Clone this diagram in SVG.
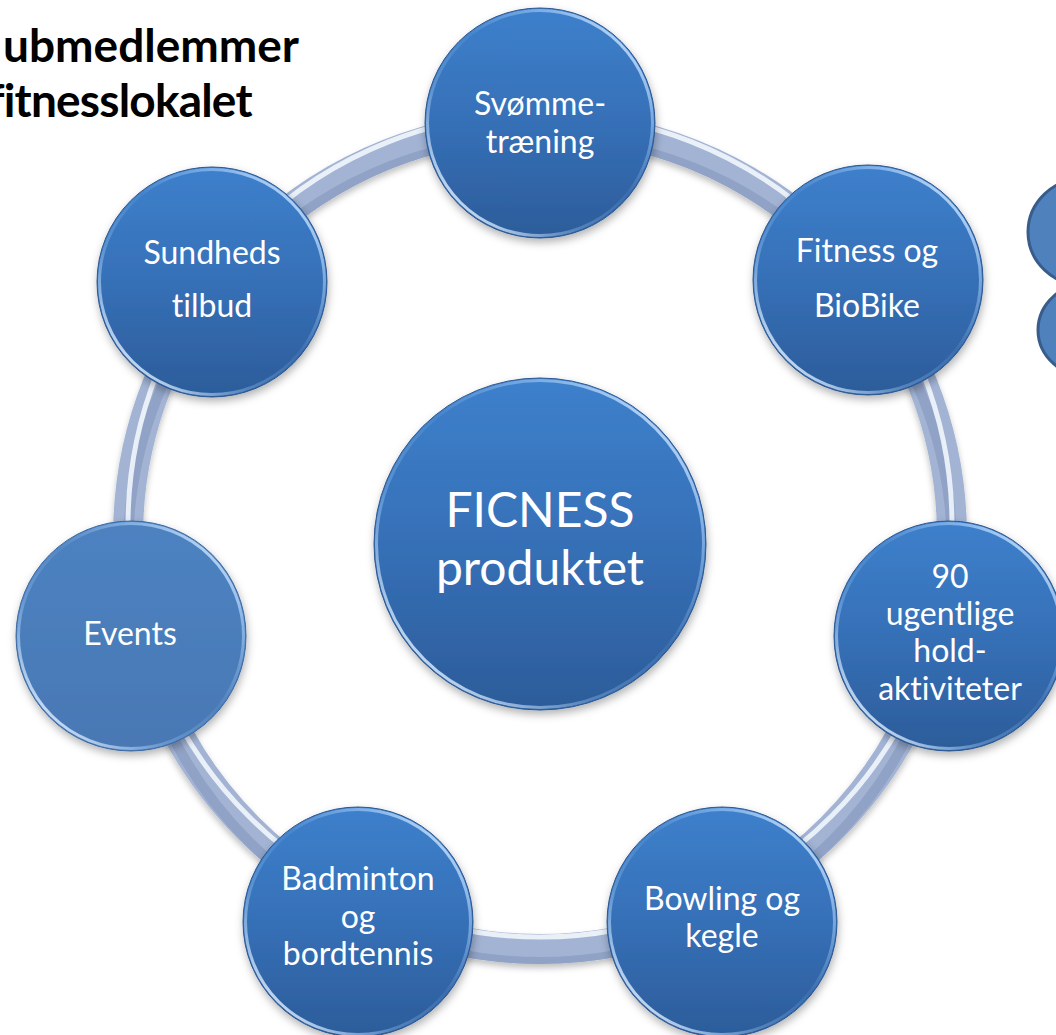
<svg xmlns="http://www.w3.org/2000/svg" width="1056" height="1035" viewBox="0 0 1056 1035">
<defs>
<style>
text{font-variant-ligatures:none;font-feature-settings:"liga" 0,"clig" 0,"dlig" 0}
.lbl{font-family:Lato,Carlito,"Liberation Sans",sans-serif;fill:#fff;text-anchor:middle;font-size:32px}
.big{font-size:48px}
.title{font-family:Lato,Carlito,"Liberation Sans",sans-serif;font-weight:bold;font-size:46px;fill:#000}
.node{fill:url(#nodeFill);stroke:#2b5792;stroke-width:1;filter:url(#shadow)}
.flat{fill:url(#flatFill);stroke:#3d6aa3;stroke-width:1;filter:url(#shadow)}
.rim{fill:none;stroke:url(#rimGrad);stroke-width:3}
.side{fill:#4f81bd;stroke:#385d8a;stroke-width:3}
</style>
<linearGradient id="nodeFill" x1="0" y1="0" x2="0" y2="1">
<stop offset="0" stop-color="#3d80cc"/>
<stop offset="0.5" stop-color="#3670b7"/>
<stop offset="1" stop-color="#2c5c9a"/>
</linearGradient>
<linearGradient id="flatFill" x1="0" y1="0" x2="0" y2="1">
<stop offset="0" stop-color="#4d82c1"/>
<stop offset="1" stop-color="#4878b4"/>
</linearGradient>
<linearGradient id="rimGrad" x1="0.1" y1="0.9" x2="0.9" y2="0.1">
<stop offset="0" stop-color="#e6f2ff" stop-opacity="0.95"/>
<stop offset="0.3" stop-color="#9cc8f5" stop-opacity="0.35"/>
<stop offset="0.55" stop-color="#9cc8f5" stop-opacity="0.1"/>
<stop offset="0.85" stop-color="#b5d8ff" stop-opacity="0.6"/>
<stop offset="1" stop-color="#d8ecff" stop-opacity="0.9"/>
</linearGradient>
<filter id="shadow" x="-20%" y="-20%" width="140%" height="140%">
<feDropShadow dx="1" dy="4" stdDeviation="4" flood-color="#000" flood-opacity="0.3"/>
</filter>
<filter id="ringShadow" x="-10%" y="-10%" width="120%" height="120%">
<feDropShadow dx="0" dy="4" stdDeviation="3" flood-color="#000" flood-opacity="0.25"/>
</filter>
<clipPath id="bandClip">
<path clip-rule="evenodd" d="M113 537 A427 427 0 1 0 967 537 A427 427 0 1 0 113 537 Z M143 537 A397 397 0 1 0 937 537 A397 397 0 1 0 143 537 Z"/>
</clipPath>
</defs>

<g id="connectors">
<circle cx="540" cy="537" r="412" fill="none" stroke="#a2b3d4" stroke-width="30" filter="url(#ringShadow)"/>
<g clip-path="url(#bandClip)">
<circle cx="540" cy="550" r="412" fill="none" stroke="#8294b8" stroke-width="10" opacity="0.55"/>
<circle cx="540" cy="525" r="412" fill="none" stroke="#f2f6fc" stroke-width="5" opacity="0.9"/>
</g>
</g>

<g id="n-center">
<circle class="node" cx="540" cy="544" r="166"/>
<circle class="rim" cx="540" cy="544" r="163.5"/>
<text class="lbl big"><tspan x="540" y="527">FICNESS</tspan><tspan x="540" y="585">produktet</tspan></text>
</g>

<g id="n-svomme">
<circle class="node" cx="540" cy="123" r="115"/>
<circle class="rim" cx="540" cy="123" r="112.5"/>
<text class="lbl"><tspan x="540" y="115">Svømme-</tspan><tspan x="540" y="153">træning</tspan></text>
</g>

<g id="n-fitness">
<circle class="node" cx="868" cy="280" r="115"/>
<circle class="rim" cx="868" cy="280" r="112.5"/>
<text class="lbl"><tspan x="867" y="262">Fitness og</tspan><tspan x="867" y="317">BioBike</tspan></text>
</g>

<g id="n-hold">
<circle class="node" cx="949" cy="636" r="115"/>
<circle class="rim" cx="949" cy="636" r="112.5"/>
<text class="lbl"><tspan x="950" y="588">90</tspan><tspan x="950" y="625">ugentlige</tspan><tspan x="950" y="662">hold-</tspan><tspan x="950" y="700">aktiviteter</tspan></text>
</g>

<g id="n-bowling">
<circle class="node" cx="722" cy="922" r="115"/>
<circle class="rim" cx="722" cy="922" r="112.5"/>
<text class="lbl"><tspan x="722" y="910">Bowling og</tspan><tspan x="722" y="947">kegle</tspan></text>
</g>

<g id="n-badminton">
<circle class="node" cx="358" cy="922" r="115"/>
<circle class="rim" cx="358" cy="922" r="112.5"/>
<text class="lbl"><tspan x="358" y="890">Badminton</tspan><tspan x="358" y="928">og</tspan><tspan x="358" y="965">bordtennis</tspan></text>
</g>

<g id="n-events">
<circle class="flat" cx="131" cy="636" r="115"/>
<circle class="rim" cx="131" cy="636" r="112.5"/>
<text class="lbl"><tspan x="130" y="645">Events</tspan></text>
</g>

<g id="n-sundhed">
<circle class="node" cx="212" cy="282" r="115"/>
<circle class="rim" cx="212" cy="282" r="112.5"/>
<text class="lbl"><tspan x="212" y="264">Sundheds</tspan><tspan x="212" y="317">tilbud</tspan></text>
</g>

<g id="title">
<text class="title" x="3" y="62">ubmedlemmer</text>
<text class="title" x="-12" y="117" letter-spacing="-0.8">fitnesslokalet</text>
</g>

<g id="side-shapes">
<ellipse class="side" cx="1092" cy="330" rx="54" ry="48"/>
<ellipse class="side" cx="1085" cy="232" rx="57" ry="54"/>
</g>
</svg>
